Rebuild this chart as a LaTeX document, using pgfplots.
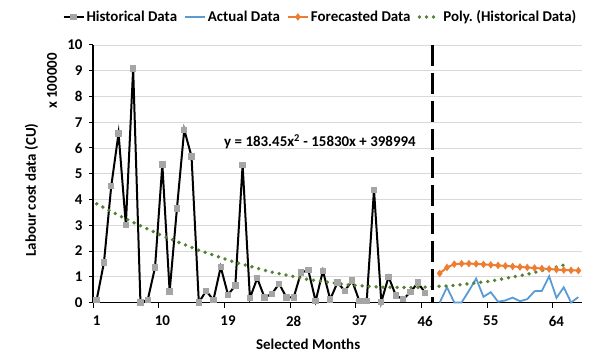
\documentclass[border=0pt]{standalone}
\usepackage{fontspec}
\setmainfont{Carlito}
\usepackage{pgfplots}
\pgfplotsset{compat=1.18}
\definecolor{histgray}{RGB}{165,165,165}
\definecolor{actblue}{RGB}{91,155,213}
\definecolor{fcorange}{RGB}{237,125,49}
\definecolor{polygreen}{RGB}{84,130,53}
\definecolor{gridgray}{RGB}{217,217,217}
\newcommand{\cf}{\bfseries\fontsize{15}{17}\selectfont}
\begin{document}
\begin{tikzpicture}[x=1bp,y=1bp]
\path[use as bounding box] (0,0) rectangle (589,362);
\begin{axis}[
  at={(93bp,59.5bp)}, anchor=south west,
  scale only axis, width=489bp, height=257.5bp,
  xmin=0.5, xmax=67.5, ymin=0, ymax=10,
  axis x line*=bottom, axis y line*=left,
  axis line style={black, line width=1.3bp},
  xtick={1,10,19,28,37,46,55,64},
  xtick style={draw=none},
  extra x ticks={0.5,9.5,18.5,27.5,36.5,45.5,54.5,63.5},
  extra x tick labels={},
  extra x tick style={xtick style={draw=black, line width=1bp}, major tick length=5bp, tick align=outside, grid=none},
  ytick={0,1,...,10},
  ytick style={draw=black, line width=1bp},
  major tick length=4bp, tick align=outside,
  ymajorgrids, grid style={gridgray, line width=0.8bp},
  /pgf/number format/assume math mode=true,
  tick label style={font=\cf},
  xticklabel style={yshift=-6bp},
  yticklabel style={xshift=-3bp},
  xlabel={Selected Months},
  xlabel style={font=\cf, at={(rel axis cs:0.44,-0.161)}, anchor=center},
  ylabel={Labour cost data (CU)},
  ylabel style={font=\cf, at={(rel axis cs:-0.126,0.437)}, anchor=center, rotate=0},
  legend columns=4,
  legend style={at={(rel axis cs:0.465,1.109)}, anchor=center, draw=none, fill=none,
    font=\cf, /tikz/every even column/.append style={column sep=5bp},
    inner sep=0pt},
  legend image code/.code={\draw[mark repeat=2,mark phase=2] plot coordinates {(0bp,0bp) (10bp,0bp) (20bp,0bp)};},
  clip=false,
]
\addplot[black, line width=2bp, mark=square*, mark size=2.2bp, mark options={draw=histgray, fill=histgray, solid}] coordinates {
(1,0.10) (2,1.55) (3,4.52) (4,6.57) (5,3.02) (6,9.08) (7,0.00) (8,0.10) (9,1.36) (10,5.36)
(11,0.43) (12,3.65) (13,6.71) (14,5.67) (15,0.00) (16,0.45) (17,0.10) (18,1.38) (19,0.30) (20,0.66)
(21,5.34) (22,0.17) (23,0.94) (24,0.20) (25,0.33) (26,0.73) (27,0.20) (28,0.20) (29,1.16) (30,1.26)
(31,0.05) (32,1.23) (33,0.12) (34,0.78) (35,0.45) (36,0.85) (37,0.05) (38,0.05) (39,4.38) (40,0.02)
(41,1.00) (42,0.27) (43,0.13) (44,0.40) (45,0.77) (46,0.38)
};
\addlegendentry{Historical Data}
\addplot[actblue, line width=1.8bp, no markers] coordinates {
(48,0.00) (49,0.59) (50,0.00) (51,0.00) (52,0.45) (53,0.93) (54,0.22) (55,0.40) (56,0.03) (57,0.08)
(58,0.19) (59,0.05) (60,0.13) (61,0.44) (62,0.45) (63,1.02) (64,0.18) (65,0.59) (66,0.00) (67,0.21)
};
\addlegendentry{Actual Data}
\addplot[fcorange, line width=2bp, mark=diamond*, mark size=2.2bp, mark options={fill=fcorange, solid}] coordinates {
(48,1.13) (49,1.36) (50,1.49) (51,1.51) (52,1.51) (53,1.50) (54,1.48) (55,1.46) (56,1.44) (57,1.42)
(58,1.40) (59,1.38) (60,1.36) (61,1.34) (62,1.32) (63,1.30) (64,1.28) (65,1.26) (66,1.25) (67,1.24)
};
\addlegendentry{Forecasted Data}
\addplot[polygreen, line width=3.8bp, line cap=round, dash pattern=on 0bp off 7bp, no markers] coordinates {
(1,3.8334) (5,3.2443) (10,2.5904) (15,2.0282) (20,1.5577) (25,1.1790) (30,0.8920) (35,0.6967)
(40,0.5931) (45,0.5813) (50,0.6612) (55,0.8328) (60,1.0961) (65,1.4512)
};
\addlegendentry{Poly.\ (Historical Data)}
\addplot[black, line width=2.8bp, dash pattern=on 21bp off 7bp, no markers, forget plot] coordinates {(47,10) (47,0)};
\node[font=\cf] at (axis cs:31.6,6.24) {y = 183.45x\textsuperscript{2} - 15830x + 398994};
\node[font=\cf, rotate=90] at (rel axis cs:-0.0838,0.860) {x 100000};
\end{axis}
\end{tikzpicture}
\end{document}
